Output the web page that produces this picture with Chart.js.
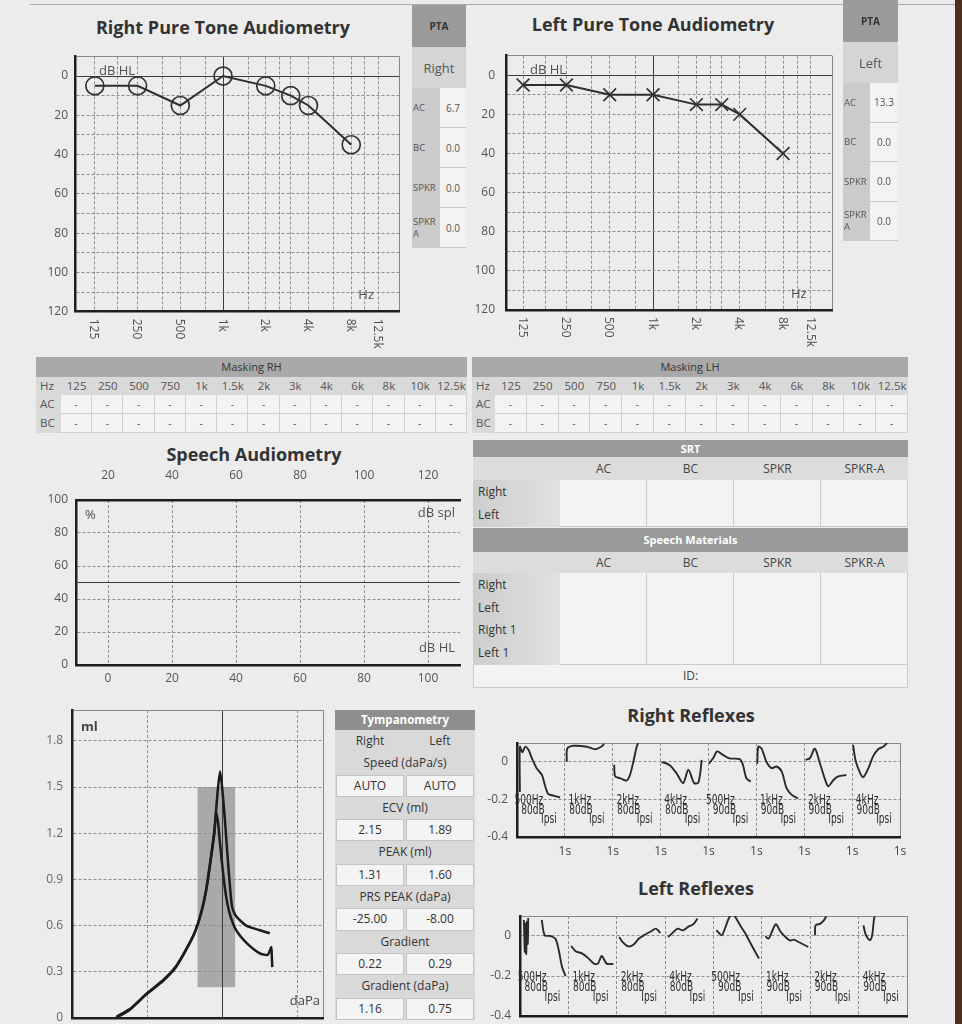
<!DOCTYPE html>
<html lang="en">
<head>
  <meta charset="UTF-8">
  <title>Audiometry Report</title>
  <script src="https://cdn.jsdelivr.net/npm/chart.js"></script>
  <style>
    body {
      margin: 0;
      width: 962px;
      height: 1024px;
      overflow: hidden;
      position: relative;
      background: #ececec;
      font-family: "Open Sans", sans-serif;
      color: #444;
    }
    .cv, .title, .pta, .mask, .srt, .tymp, .line, .edge { position: absolute; }
    .title { width: 400px; text-align: center; font-weight: bold; font-size: 18px; line-height: 24px; color: #333; white-space: nowrap; }
    .line { left: 30px; top: 4px; width: 925px; height: 1px; background: #a8a8a8; }
    .edge { left: 955px; top: 0; width: 7px; height: 1024px; background: #4d301f; }

    /* PTA boxes */
    .pta-head { background: #9b9b9b; font-size: 10px; font-weight: bold; color: #333; display: flex; align-items: center; justify-content: center; }
    .pta-ear { background: #d5d5d5; font-size: 13px; color: #555; display: flex; align-items: center; justify-content: center; }
    .pta-row { display: flex; }
    .pta-row span { background: #cbcbcb; font-size: 9.5px; line-height: 12px; color: #555; display: flex; align-items: center; padding-left: 1px; }
    .pta-row b { flex: 1; font-weight: normal; background: #f3f3f3; border-bottom: 1px solid #c8c8c8; font-size: 10px; color: #555; display: flex; align-items: center; justify-content: center; }

    /* masking tables */
    .mask { top: 357px; font-size: 11.5px; color: #555; }
    .mhead { height: 20px; line-height: 20px; background: #a9a9a9; color: #333; text-align: center; font-size: 11px; }
    .mrow { display: grid; }
    .mhz { height: 18px; line-height: 18px; background: #d9d9d9; }
    .mhz div { text-align: center; }
    .mhz div:first-child { text-align: left; padding-left: 4px; }
    .mval { height: 18.5px; line-height: 18px; background: #d9d9d9; }
    .mval div { background: #f3f3f3; border-right: 1px solid #cfcfcf; border-bottom: 1px solid #cfcfcf; text-align: center; font-size: 10px; }
    .mval div:first-child { background: #d9d9d9; border: none; text-align: left; padding-left: 4px; font-size: 11.5px; }

    /* SRT / speech materials */
    .srt { left: 473px; width: 435px; font-size: 12px; color: #444; }
    .shead { background: #9a9a9a; color: #fff; font-weight: bold; font-size: 11px; text-align: center; }
    .srow { display: grid; grid-template-columns: 87px repeat(4, 1fr); }
    .scols { background: #dcdcdc; }
    .scols div { text-align: center; }
    .sdata div { background: #f3f3f3; border-right: 1px solid #cacaca; border-bottom: 1px solid #cacaca; }
    .sdata div:first-child { background: linear-gradient(90deg, #cdcdcd, #e1e1e1); border: none; padding-left: 5px; color: #333; }
    .sid { background: #f3f3f3; border: 1px solid #cacaca; text-align: center; }

    /* tympanometry table */
    .tymp { left: 335px; top: 710px; width: 140px; font-size: 12px; color: #333; background: #d9d9d9; }
    .thead { height: 20px; line-height: 20px; background: #8e8e8e; color: #fff; font-weight: bold; font-size: 11.5px; text-align: center; }
    .tlab { height: 22.3px; line-height: 22px; text-align: center; }
    .ttwo { display: grid; grid-template-columns: 1fr 1fr; height: 22.3px; line-height: 20px; }
    .ttwo.v div { background: #f4f4f4; border: 1px solid #c4c4c4; margin: 0 1px; text-align: center; }
    .ttwo.h div { text-align: center; line-height: 22px; }
  </style>
</head>
<body>
<div class="line"></div>
<div class="edge"></div>

<div class="title" style="left:23px;top:15px">Right Pure Tone Audiometry</div>
<div class="title" style="left:453px;top:12px">Left Pure Tone Audiometry</div>
<div class="title" style="left:54px;top:442px">Speech Audiometry</div>
<div class="title" style="left:491px;top:703px">Right Reflexes</div>
<div class="title" style="left:496px;top:876px">Left Reflexes</div>

<div class="cv" style="left:30px;top:45px;width:380px;height:310px"><canvas id="rightPT" width="380" height="310"></canvas></div>
<div class="cv" style="left:470px;top:45px;width:380px;height:310px"><canvas id="leftPT" width="380" height="310"></canvas></div>
<div class="cv" style="left:20px;top:470px;width:450px;height:225px"><canvas id="speech" width="450" height="225"></canvas></div>
<div class="cv" style="left:20px;top:700px;width:340px;height:340px"><canvas id="tymp" width="340" height="340"></canvas></div>
<div class="cv" style="left:482px;top:735px;width:440px;height:125px"><canvas id="rightRefl" width="440" height="125"></canvas></div>
<div class="cv" style="left:485px;top:906px;width:440px;height:134px"><canvas id="leftRefl" width="440" height="134"></canvas></div>

<script>
  // ---- pure tone audiometry ----
  const ptFreqs = [125, 250, 500, 1000, 2000, 3000, 4000, 8000];
  const rightAC = [5, 5, 15, 0, 5, 10, 15, 35];
  const leftAC = [5, 5, 10, 10, 15, 15, 20, 40];
  const ptGridFreqs = [125, 180, 250, 375, 500, 750, 1000, 1500, 2000, 2500, 3000, 4000, 6000, 8000, 10000, 12500];
  const ptLabelFreqs = [125, 250, 500, 1000, 2000, 4000, 8000, 12500];
  const ptLabels = ['125', '250', '500', '1k', '2k', '4k', '8k', '12.5k'];
  const dbGrid = [-10, 0, 10, 20, 30, 40, 50, 60, 70, 80, 90, 100, 110, 120];
  const dbLabels = [0, 20, 40, 60, 80, 100, 120];

  // ---- PTA boxes ----
  const ptaRowNames = ['AC', 'BC', 'SPKR', 'SPKR<br>A'];
  const ptaRight = ['6.7', '0.0', '0.0', '0.0'];
  const ptaLeft = ['13.3', '0.0', '0.0', '0.0'];

  // ---- masking ----
  const maskFreqs = ['125', '250', '500', '750', '1k', '1.5k', '2k', '3k', '4k', '6k', '8k', '10k', '12.5k'];
  const maskRows = ['AC', 'BC'];

  // ---- speech audiometry ----
  const speechHL = [0, 20, 40, 60, 80, 100];
  const speechSPL = [20, 40, 60, 80, 100, 120];
  const speechPct = [0, 20, 40, 50, 60, 80, 100];
  const srtCols = ['AC', 'BC', 'SPKR', 'SPKR-A'];
  const srtRows = ['Right', 'Left'];
  const materialRows = ['Right', 'Left', 'Right 1', 'Left 1'];

  // ---- tympanometry ----
  const tympPressGrid = [-300, -150, 0, 150, 200];
  const tympVolTicks = [0, 0.3, 0.6, 0.9, 1.2, 1.5, 1.8, 2.0];
  const tympBoxP = [-50, 25];
  const tympBoxV = [0.2, 1.5];
  const tympAP = [-213, -186, -153, -119, -93, -73, -56, -43, -33, -24, -17, -13, -9, -5, -1, 4, 9, 14, 19, 27, 47, 74, 94];
  const tympAV = [0, 0.05, 0.15, 0.24, 0.33, 0.44, 0.55, 0.68, 0.83, 1.03, 1.20, 1.35, 1.50, 1.60, 1.50, 1.31, 1.09, 0.88, 0.72, 0.66, 0.60, 0.57, 0.55];
  const tympBP = [-211, -184, -151, -117, -92, -72, -55, -42, -32, -23, -16, -13, -9, -6, 1, 7, 14, 27, 47, 74, 90, 97, 98, 99];
  const tympBV = [0.01, 0.06, 0.16, 0.25, 0.34, 0.45, 0.56, 0.69, 0.84, 1.04, 1.21, 1.33, 1.27, 1.16, 0.94, 0.79, 0.68, 0.57, 0.49, 0.42, 0.41, 0.46, 0.40, 0.33];
  const tympRows = [
    ['Speed (daPa/s)', 'AUTO', 'AUTO'],
    ['ECV (ml)', '2.15', '1.89'],
    ['PEAK (ml)', '1.31', '1.60'],
    ['PRS PEAK (daPa)', '-25.00', '-8.00'],
    ['Gradient', '0.22', '0.29'],
    ['Gradient (daPa)', '1.16', '0.75']
  ];

  // ---- reflexes ----
  const reflexTicks = [0, 1, 2, 3, 4, 5, 6, 7, 8];
  const reflexLevels = [-0.4, -0.2, 0, 0.1];
  const reflexFreqs = ['500Hz', '1kHz', '2kHz', '4kHz', '500Hz', '1kHz', '2kHz', '4kHz'];
  const reflexDb = ['80dB', '80dB', '80dB', '80dB', '90dB', '90dB', '90dB', '90dB'];
  const rightReflexT = [
    [0.06, 0.06, 0.11, 0.17, 0.24, 0.31, 0.41, 0.52, 0.59, 0.65, 0.76, 0.9],
    [1.04, 1.05, 1.18, 1.46, 1.63, 1.76, 1.82],
    [2.03, 2.05, 2.15, 2.29, 2.36, 2.43, 2.5, 2.53],
    [3.02, 3.19, 3.33, 3.47, 3.58, 3.70, 3.79, 3.86],
    [4.01, 4.10, 4.18, 4.30, 4.44, 4.65, 4.72, 4.79, 4.88],
    [5.02, 5.04, 5.11, 5.21, 5.32, 5.42, 5.53, 5.63, 5.74, 5.87],
    [6.03, 6.12, 6.22, 6.33, 6.43, 6.50, 6.61, 6.71, 6.88],
    [7.02, 7.07, 7.15, 7.23, 7.34, 7.44, 7.55, 7.65, 7.73]
  ];
  const rightReflexV = [
    [-0.16, 0.08, 0.05, 0.08, 0.064, 0.02, -0.034, -0.07, -0.13, -0.17, -0.18, -0.19],
    [0.0, 0.07, 0.085, 0.08, 0.067, 0.08, 0.095],
    [-0.016, -0.078, -0.087, -0.1, -0.07, 0.0, 0.08, 0.1],
    [0.0, -0.018, -0.06, -0.113, -0.042, -0.113, -0.11, 0.01],
    [-0.01, 0.02, 0.055, 0.037, 0.018, 0.014, -0.017, -0.087, -0.105],
    [-0.01, 0.08, 0.07, 0.0, -0.034, -0.025, -0.052, -0.14, -0.176, -0.195],
    [0.01, 0.02, 0.07, -0.01, -0.09, -0.13, -0.097, -0.078, -0.07],
    [0.09, 0.01, -0.05, -0.082, -0.034, 0.03, 0.068, 0.08, 0.1]
  ];
  const leftReflexT = [
    [0.08, 0.10, 0.11, 0.13, 0.14, 0.16, 0.17, 0.3, 0.45, 0.51, 0.63, 0.73, 0.80, 0.87, 0.94],
    [1.06, 1.15, 1.29, 1.42, 1.53, 1.61, 1.69, 1.79, 1.93],
    [2.05, 2.12, 2.24, 2.35, 2.46, 2.6, 2.72, 2.81, 2.9],
    [3.06, 3.16, 3.26, 3.37, 3.49, 3.58, 3.67],
    [4.06, 4.17, 4.24, 4.32, 4.40, 4.47, 4.56, 4.65, 4.74, 4.83, 4.94],
    [5.07, 5.14, 5.22, 5.29, 5.39, 5.49, 5.58, 5.66, 5.76, 5.96],
    [6.10, 6.11, 6.21, 6.28, 6.33],
    [7.10, 7.14, 7.20, 7.24, 7.28, 7.31, 7.33]
  ];
  const leftReflexV = [
    [0.08, -0.08, 0.06, -0.09, 0.07, -0.04, 0.09, null, 0.08, 0.004, 0.0, -0.013, -0.07, -0.155, -0.2],
    [-0.05, -0.076, -0.088, -0.113, -0.138, -0.138, -0.1, -0.138, -0.14],
    [-0.005, -0.03, -0.052, -0.042, -0.013, 0.009, 0.025, 0.037, 0.015],
    [-0.005, 0.017, 0.037, 0.028, 0.048, 0.058, 0.087],
    [0.029, 0.004, 0.04, 0.09, 0.11, 0.087, 0.05, 0.016, -0.025, -0.065, -0.113],
    [-0.001, -0.013, 0.029, 0.059, 0.02, -0.005, -0.022, -0.018, -0.03, -0.055],
    [0.003, 0.053, 0.062, 0.078, 0.098],
    [0.053, 0.012, -0.015, -0.02, 0.003, 0.07, 0.098]
  ];

  // ---------- tables ----------
  function ptaBlock(left, top, width, labelW, ear, values, rowH) {
    let h = `<div class="pta" style="left:${left}px;top:${top}px;width:${width}px">`;
    h += `<div class="pta-head" style="height:42px">PTA</div>`;
    h += `<div class="pta-ear" style="height:41px">${ear}</div>`;
    ptaRowNames.forEach((r, i) => {
      h += `<div class="pta-row" style="height:${rowH}px"><span style="width:${labelW}px">${r}</span><b>${values[i]}</b></div>`;
    });
    return h + '</div>';
  }

  function maskTable(left, width, firstCol, title) {
    const cols = `grid-template-columns:${firstCol}px repeat(${maskFreqs.length},1fr)`;
    let h = `<div class="mask" style="left:${left}px;width:${width}px">`;
    h += `<div class="mhead">${title}</div>`;
    h += `<div class="mrow mhz" style="${cols}"><div>Hz</div>${maskFreqs.map(f => `<div>${f}</div>`).join('')}</div>`;
    maskRows.forEach(r => {
      h += `<div class="mrow mval" style="${cols}"><div>${r}</div>${maskFreqs.map(() => '<div>-</div>').join('')}</div>`;
    });
    return h + '</div>';
  }

  function speechTable(top, title, headH, colsH, rows, rowH, withId) {
    let h = `<div class="srt" style="top:${top}px">`;
    h += `<div class="shead" style="height:${headH}px;line-height:${headH}px">${title}</div>`;
    h += `<div class="srow scols" style="height:${colsH}px;line-height:${colsH}px"><div></div>${srtCols.map(c => `<div>${c}</div>`).join('')}</div>`;
    rows.forEach(r => {
      h += `<div class="srow sdata" style="height:${rowH}px;line-height:${rowH + 2}px"><div>${r}</div><div></div><div></div><div></div><div></div></div>`;
    });
    if (withId) h += `<div class="sid" style="height:23px;line-height:23px">ID:</div>`;
    return h + '</div>';
  }

  function tympTable() {
    let h = '<div class="tymp"><div class="thead">Tympanometry</div>';
    h += '<div class="ttwo h"><div>Right</div><div>Left</div></div>';
    tympRows.forEach(r => {
      h += `<div class="tlab">${r[0]}</div>`;
      h += `<div class="ttwo v"><div>${r[1]}</div><div>${r[2]}</div></div>`;
    });
    return h + '</div>';
  }

  document.body.insertAdjacentHTML('beforeend',
    ptaBlock(412, 5, 54, 27, 'Right', ptaRight, 40) +
    ptaBlock(843, 0, 55, 26, 'Left', ptaLeft, 39.5) +
    maskTable(36, 431, 25, 'Masking RH') +
    maskTable(472, 436, 23, 'Masking LH') +
    speechTable(440, 'SRT', 17, 23, srtRows, 22.5, false) +
    speechTable(528, 'Speech Materials', 24, 21, materialRows, 22.5, true) +
    tympTable()
  );

  // ---------- charts ----------
  Chart.defaults.font.family = '"Open Sans", sans-serif';
  Chart.defaults.font.size = 12;
  Chart.defaults.color = '#555';

  // every axis box gets a fixed size so the plot area lands where it should
  const fixed = n => s => {
    if (s.isHorizontal()) s.height = n; else s.width = n;
    s.paddingLeft = s.paddingRight = s.paddingTop = s.paddingBottom = 0;
  };
  const tickList = list => s => { s.ticks = list.map(v => ({ value: v })); };
  const isAt = (c, list) => c.tick && list.includes(c.tick.value);

  function gridStyle(dark, light) {
    return {
      drawTicks: false,
      lineWidth: 1,
      color: c => isAt(c, dark) ? '#3c3c3c' : (isAt(c, light) ? '#888' : '#8e8e8e')
    };
  }
  function borderStyle(solid) {
    return { display: true, color: '#1e1e1e', width: 2.5, dash: c => isAt(c, solid) ? [] : [3, 2] };
  }
  const base = {
    responsive: false,
    animation: false,
    events: [],
    plugins: { legend: { display: false }, tooltip: { enabled: false } }
  };

  const audiogramText = {
    id: 'audiogramText',
    afterDraw(chart) {
      const { ctx, chartArea: a, scales: { x } } = chart;
      ctx.save();
      ctx.fillStyle = '#505050';
      ctx.font = '12px "Open Sans"';
      ctx.textAlign = 'left';
      ctx.textBaseline = 'middle';
      ptLabelFreqs.forEach((f, i) => {
        ctx.save();
        ctx.translate(x.getPixelForValue(f) - 1, a.bottom + 7);
        ctx.rotate(Math.PI / 2);
        ctx.fillText(ptLabels[i], 0, 0);
        ctx.restore();
      });
      ctx.font = '13px "Open Sans"';
      ctx.fillText('dB HL', a.left + 24, a.top + 15);
      ctx.fillText('Hz', a.right - 41, a.bottom - 16);
      ctx.restore();
    }
  };

  function makeAudiogram(id, values, pointStyle, xMin, xMax, yW, xH, top, right, labelPad) {
    new Chart(document.getElementById(id), {
      type: 'line',
      data: {
        datasets: [{
          data: ptFreqs.map((f, i) => ({ x: f, y: values[i] })),
          borderColor: '#2e2e2e',
          borderWidth: 2,
          pointStyle: pointStyle,
          pointRadius: 9,
          pointBorderWidth: 1.7,
          pointBorderColor: '#333',
          pointBackgroundColor: 'rgba(0,0,0,0)'
        }]
      },
      options: {
        ...base,
        layout: { padding: { left: 0, bottom: 0, top: top, right: right } },
        scales: {
          x: {
            type: 'logarithmic', min: xMin, max: xMax,
            afterBuildTicks: tickList(ptGridFreqs.concat([xMax])),
            afterFit: fixed(xH),
            ticks: { display: false },
            grid: gridStyle([1000], [xMax]),
            border: borderStyle([1000, xMax])
          },
          y: {
            type: 'linear', reverse: true, min: -10, max: 120,
            afterBuildTicks: tickList(dbGrid),
            afterFit: fixed(yW),
            ticks: { autoSkip: false, padding: labelPad, callback: v => dbLabels.includes(v) ? String(v) : '' },
            grid: gridStyle([0], [-10]),
            border: borderStyle([0, -10])
          }
        }
      },
      plugins: [audiogramText]
    });
  }

  makeAudiogram('rightPT', rightAC, 'circle', 90.6, 17450, 45, 43.3, 11.4, 8, 7);
  makeAudiogram('leftPT', leftAC, 'crossRot', 95.1, 17500, 36, 45, 10.4, 18, 11);

  // speech audiometry
  const speechText = {
    id: 'speechText',
    afterDraw(chart) {
      const { ctx, chartArea: a } = chart;
      ctx.save();
      ctx.fillStyle = '#505050';
      ctx.font = '13px "Open Sans"';
      ctx.textBaseline = 'middle';
      ctx.textAlign = 'left';
      ctx.fillText('%', a.left + 9, a.top + 15);
      ctx.textAlign = 'right';
      ctx.fillText('dB spl', a.right - 5, a.top + 13);
      ctx.fillText('dB HL', a.right - 5, a.bottom - 17);
      ctx.restore();
    }
  };

  new Chart(document.getElementById('speech'), {
    type: 'line',
    data: { datasets: [] },
    options: {
      ...base,
      layout: { padding: { left: 0, top: 0, right: 10, bottom: 0 } },
      scales: {
        x: {
          type: 'linear', position: 'bottom', min: -10, max: 110,
          afterBuildTicks: tickList(speechHL),
          afterFit: fixed(30),
          ticks: { padding: 6, maxRotation: 0, autoSkip: false },
          grid: gridStyle([], []),
          border: borderStyle([])
        },
        x2: {
          type: 'linear', axis: 'x', position: 'top', min: 10, max: 130,
          afterBuildTicks: tickList(speechSPL),
          afterFit: fixed(30),
          ticks: { padding: 9, maxRotation: 0, autoSkip: false },
          grid: { display: false },
          border: { display: true, color: '#1e1e1e', width: 2.5 }
        },
        y: {
          type: 'linear', min: 0, max: 100,
          afterBuildTicks: tickList(speechPct),
          afterFit: fixed(56),
          ticks: { padding: 8, autoSkip: false, callback: v => v === 50 ? '' : String(v) },
          grid: gridStyle([50], []),
          border: borderStyle([50])
        }
      }
    },
    plugins: [speechText]
  });

  // tympanogram
  const tympDecor = {
    id: 'tympDecor',
    beforeDraw(chart) {
      const { ctx, scales: { x, y } } = chart;
      const x1 = x.getPixelForValue(tympBoxP[0]), x2 = x.getPixelForValue(tympBoxP[1]);
      const y1 = y.getPixelForValue(tympBoxV[1]), y2 = y.getPixelForValue(tympBoxV[0]);
      ctx.save();
      ctx.fillStyle = '#a9a9a9';
      ctx.fillRect(x1, y1, x2 - x1, y2 - y1);
      ctx.restore();
    },
    afterDraw(chart) {
      const { ctx, chartArea: a } = chart;
      ctx.save();
      ctx.fillStyle = '#454545';
      ctx.textBaseline = 'middle';
      ctx.font = 'bold 13px "Open Sans"';
      ctx.textAlign = 'left';
      ctx.fillText('ml', a.left + 9, a.top + 17);
      ctx.font = '13px "Open Sans"';
      ctx.textAlign = 'right';
      ctx.fillText('daPa', a.right - 3, a.bottom - 17);
      ctx.restore();
    }
  };

  const tympLine = (p, v) => ({
    data: p.map((x, i) => ({ x: x, y: v[i] })),
    showLine: true,
    borderColor: '#1c1c1c',
    borderWidth: 2.5,
    pointRadius: 0,
    tension: 0.2
  });

  new Chart(document.getElementById('tymp'), {
    type: 'scatter',
    data: { datasets: [tympLine(tympAP, tympAV), tympLine(tympBP, tympBV)] },
    options: {
      ...base,
      layout: { padding: { left: 0, top: 10, right: 37, bottom: 0 } },
      scales: {
        x: {
          type: 'linear', min: -300, max: 200,
          afterBuildTicks: tickList(tympPressGrid),
          afterFit: fixed(22),
          ticks: { display: false },
          grid: gridStyle([0], [200]),
          border: borderStyle([0, 200])
        },
        y: {
          type: 'linear', min: 0, max: 2,
          afterBuildTicks: tickList(tympVolTicks),
          afterFit: fixed(52),
          ticks: { padding: 9, autoSkip: false, color: '#666', callback: v => v === 2 ? '' : (v === 0 ? '0' : v.toFixed(1)) },
          grid: gridStyle([], [2]),
          border: borderStyle([2])
        }
      }
    },
    plugins: [tympDecor]
  });

  // acoustic reflexes
  const reflexText = {
    id: 'reflexText',
    afterDraw(chart) {
      const { ctx, scales: { x, y } } = chart;
      ctx.save();
      ctx.fillStyle = '#2e2e2e';
      ctx.font = '14px "Liberation Sans Narrow", "DejaVu Sans Condensed", sans-serif';
      ctx.textAlign = 'right';
      ctx.textBaseline = 'middle';
      const put = (txt, t, v) => {
        ctx.save();
        ctx.translate(x.getPixelForValue(t), y.getPixelForValue(v));
        ctx.scale(0.72, 1);
        ctx.fillText(txt, 0, 0);
        ctx.restore();
      };
      reflexFreqs.forEach((f, i) => {
        put(f, i + 0.55, -0.205);
        put(reflexDb[i], i + 0.58, -0.257);
        put('Ipsi', i + 0.83, -0.307);
      });
      ctx.restore();
    }
  };

  function makeReflex(id, times, values, yW, xH, top, right) {
    new Chart(document.getElementById(id), {
      type: 'scatter',
      data: {
        datasets: times.map((t, k) => ({
          data: t.map((s, i) => ({ x: s, y: values[k][i] })),
          showLine: true,
          spanGaps: false,
          borderColor: '#2a2a2a',
          borderWidth: 1.9,
          pointRadius: 0,
          tension: 0.3
        }))
      },
      options: {
        ...base,
        layout: { padding: { left: 0, bottom: 0, top: top, right: right } },
        scales: {
          x: {
            type: 'linear', min: 0, max: 8,
            afterBuildTicks: tickList(reflexTicks),
            afterFit: fixed(xH),
            ticks: { padding: 7, autoSkip: false, maxRotation: 0, color: '#444', callback: v => v > 0 ? '1s' : '' },
            grid: gridStyle([], [8]),
            border: borderStyle([8])
          },
          y: {
            type: 'linear', min: -0.4, max: 0.1,
            afterBuildTicks: tickList(reflexLevels),
            afterFit: fixed(yW),
            ticks: { padding: 9, autoSkip: false, callback: v => v === 0.1 ? '' : (v === 0 ? '0' : v.toFixed(1)) },
            grid: gridStyle([], [0.1]),
            border: borderStyle([0.1])
          }
        }
      },
      plugins: [reflexText]
    });
  }

  makeReflex('rightRefl', rightReflexT, rightReflexV, 35, 23, 8, 22);
  makeReflex('leftRefl', leftReflexT, leftReflexV, 35, 24, 10, 18);
</script>
</body>
</html>
